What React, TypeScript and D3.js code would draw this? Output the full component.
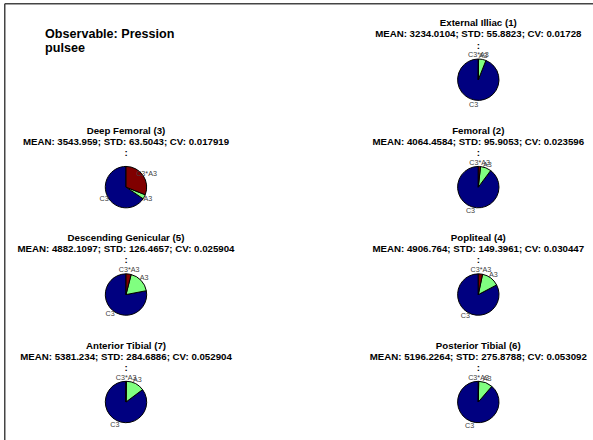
import React from "react";
import * as d3 from "d3";

// Figure title
const titleLines = ["Observable: Pression", "pulsee"];

// Vessel segments, in subplot order (slot 0 holds the figure title)
const segments = [
  "External Illiac (1)",
  "Deep Femoral (3)",
  "Femoral (2)",
  "Descending Genicular (5)",
  "Popliteal (4)",
  "Anterior Tibial (7)",
  "Posterior Tibial (6)",
];
const slots = [1, 2, 3, 4, 5, 6, 7];

const means = [3234.0104, 3543.959, 4064.4584, 4882.1097, 4906.764, 5381.234, 5196.2264];
const stds = [55.8823, 63.5043, 95.9053, 126.4657, 149.3961, 284.6886, 275.8788];
const cvs = [0.01728, 0.017919, 0.023596, 0.025904, 0.030447, 0.052904, 0.053092];

// Sensitivity shares per factor
const factorLabels = ["C3", "A3", "C3*A3"];
const c3Share = [0.94, 0.655, 0.898, 0.78, 0.827, 0.852, 0.887];
const a3Share = [0.058, 0.035, 0.085, 0.18, 0.14, 0.145, 0.11];
const c3a3Share = [0.002, 0.31, 0.017, 0.04, 0.033, 0.003, 0.003];

const factorColors = ["#000080", "#80ff80", "#800000"];

const W = 593;
const H = 440;
const R = 20.7;

const colX = d3.scaleOrdinal<number, number>().domain([0, 1]).range([126, 478.3]);
const rowY = d3.scaleLinear().domain([0, 3]).range([79.7, 402]);

type Slice = { label: string; value: number; color: string };

const pie = d3
  .pie<Slice>()
  .sort(null)
  .value((d) => d.value)
  .startAngle(0)
  .endAngle(-2 * Math.PI);

const sliceArc = d3.arc<d3.PieArcDatum<Slice>>().innerRadius(0).outerRadius(R);
const labelArc = d3
  .arc<d3.PieArcDatum<Slice>>()
  .innerRadius(R * 1.2)
  .outerRadius(R * 1.2);

const font = "'Liberation Sans', Arial, Helvetica, sans-serif";

function PiePanel({ i }: { i: number }) {
  const slot = slots[i];
  const cx = colX(slot % 2);
  const cy = rowY(Math.floor(slot / 2));
  const shares = [c3Share[i], a3Share[i], c3a3Share[i]];
  const data: Slice[] = factorLabels.map((label, k) => ({
    label,
    value: shares[k],
    color: factorColors[k],
  }));
  const arcs = pie(data);
  const headLines = [
    segments[i],
    `MEAN: ${means[i]}; STD: ${stds[i]}; CV: ${cvs[i]}`,
    ":",
  ];
  return (
    <g>
      {headLines.map((t, k) => (
        <text
          key={k}
          x={cx}
          y={cy - 53.5 + k * 11.2}
          textAnchor="middle"
          fontFamily={font}
          fontWeight="bold"
          fontSize={9.7}
          fill="#000"
        >
          {t}
        </text>
      ))}
      <g transform={`translate(${cx},${cy})`}>
        {arcs.map((a, k) => (
          <path
            key={k}
            d={sliceArc(a) || ""}
            fill={a.data.color}
            stroke="#000"
            strokeWidth={1}
          />
        ))}
        {arcs.map((a, k) => {
          const [lx, ly] = labelArc.centroid(a);
          return (
            <text
              key={`l${k}`}
              x={lx}
              y={ly}
              dy="0.35em"
              textAnchor="middle"
              fontFamily={font}
              fontSize={7.2}
              fill="#404040"
            >
              {a.data.label}
            </text>
          );
        })}
      </g>
    </g>
  );
}

export default function App() {
  return (
    <svg
      width={W}
      height={H}
      style={{ position: "absolute", left: 0, top: 0, background: "#fff" }}
    >
      <rect x={0} y={0} width={W} height={H} fill="#fff" />
      <line x1={4.75} y1={3.75} x2={W} y2={3.75} stroke="#444" strokeWidth={1.5} />
      <line x1={4.75} y1={3.75} x2={4.75} y2={H} stroke="#444" strokeWidth={1.5} />
      {titleLines.map((t, k) => (
        <text
          key={k}
          x={45}
          y={37.5 + k * 14.4}
          fontFamily={font}
          fontWeight="bold"
          fontSize={12.6}
          fill="#000"
        >
          {t}
        </text>
      ))}
      {segments.map((_, i) => (
        <PiePanel key={i} i={i} />
      ))}
    </svg>
  );
}
